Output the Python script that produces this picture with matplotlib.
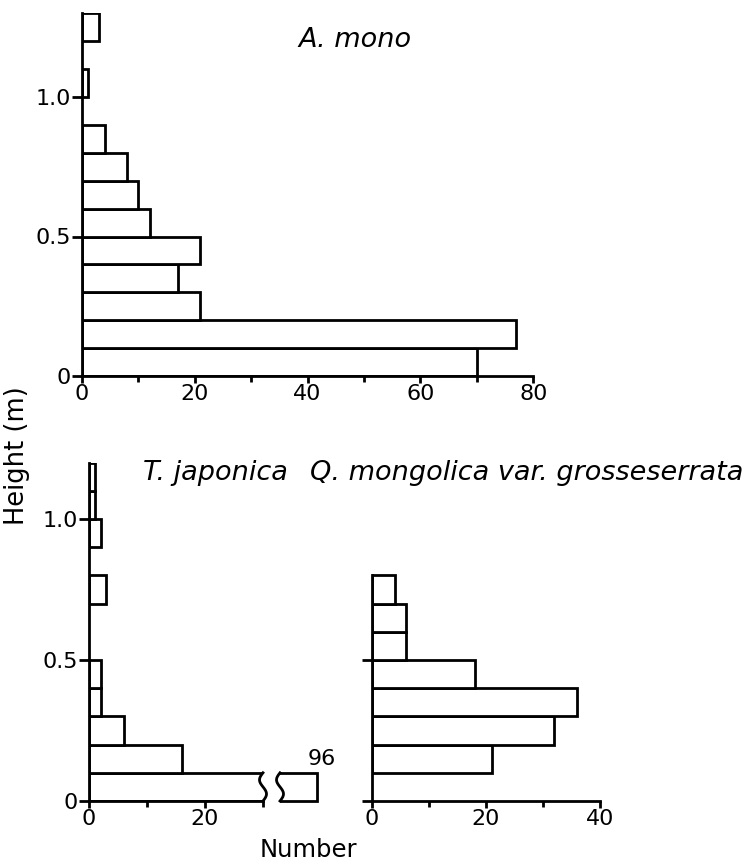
import numpy as np
import matplotlib.pyplot as plt
import matplotlib

matplotlib.rcParams.update({'font.size': 16, 'font.family': 'DejaVu Sans'})

# height classes (m), 0.1 m wide, lower edges
bin_width = 0.1
mono_counts = [70, 77, 21, 17, 21, 12, 10, 8, 4, 0, 1, 0, 3]
japonica_counts = [96, 16, 6, 2, 2, 0, 0, 3, 0, 2, 1, 1]
mongolica_counts = [0, 21, 32, 36, 18, 6, 6, 4]

LW = 2.0
W = 7.52
H = 8.67
fig = plt.figure(figsize=(W, H), dpi=100)


def px_axes(x0, y0, w, h):
    # axes rectangle given in pixels from the top-left corner
    return fig.add_axes([x0 / 752, 1 - (y0 + h) / 867, w / 752, h / 867])


def draw_hist(ax, counts):
    counts = np.asarray(counts, dtype=float)
    lows = np.arange(len(counts)) * bin_width
    keep = counts > 0
    ax.barh(lows[keep], counts[keep], height=bin_width, align='edge',
            color='white', edgecolor='black', linewidth=LW)


def style(ax, xmax, ymax, ytop, ylabels=True):
    ax.set_xlim(0, xmax)
    ax.set_ylim(0, ymax)
    for s in ['top', 'right']:
        ax.spines[s].set_visible(False)
    ax.spines['left'].set_linewidth(LW)
    ax.spines['bottom'].set_linewidth(LW)
    ax.spines['left'].set_bounds(0, ytop)
    ax.spines['bottom'].set_bounds(0, xmax)
    ax.set_xticks(np.arange(0, xmax + 1, 20))
    ax.set_xticks(np.arange(10, xmax, 20), minor=True)
    ax.set_yticks([0, 0.5, 1.0] if ylabels else [0, 0.5])
    if ylabels:
        ax.set_yticklabels(['0', '0.5', '1.0'])
    else:
        ax.set_yticklabels([])
    ax.tick_params(axis='x', which='major', direction='out', length=5,
                   width=LW, pad=1)
    ax.tick_params(axis='x', which='minor', direction='out', length=4,
                   width=LW)
    ax.tick_params(axis='y', direction='out', length=7, width=LW, pad=1)
    ax.set_facecolor('none')


def wavy(ax, x, y0, y1, amp, **kw):
    t = np.linspace(0, 1, 60)
    ax.plot(x + amp * np.sin(2 * np.pi * t), y0 + (y1 - y0) * t,
            color='black', lw=LW, clip_on=False, **kw)


# A. mono
ax1 = px_axes(82, 376 - 1.3 * 279, 5.64 * 80, 1.3 * 279)
draw_hist(ax1, mono_counts)
style(ax1, 80, 1.3, 1.3)
fig.text(355 / 752, 1 - 40 / 867, 'A. mono', style='italic', fontsize=19.5,
         ha='center', va='center')

# T. japonica, axis broken at 30
ax2 = px_axes(89, 801 - 1.2 * 282, 5.8 * 30, 1.2 * 282)
draw_hist(ax2, japonica_counts)
style(ax2, 30, 1.2, 1.2)
ax2.set_xticks([0, 20])
ax2.set_xticks([10, 30], minor=True)
wavy(ax2, 30, 0, bin_width, 0.6)

# continuation of the longest bar past the break
stub_left = 89.6
ax3 = px_axes(280, 801 - 1.2 * 282, 50, 1.25 * 282)
draw_hist(ax3, japonica_counts)
ax3.set_xlim(stub_left, stub_left + 50 / 5.8)
ax3.set_ylim(-0.05, 1.2)
ax3.axis('off')
wavy(ax3, stub_left, 0, bin_width, 0.6)
ax3.text(japonica_counts[0] + 0.8, bin_width + 0.015, str(japonica_counts[0]),
         ha='center', va='bottom', fontsize=16, clip_on=False)

# Q. mongolica var. grosseserrata
ax4 = px_axes(372, 801 - 1.2 * 282, 5.7 * 40, 1.2 * 282)
draw_hist(ax4, mongolica_counts)
style(ax4, 40, 1.2, len(mongolica_counts) * bin_width, ylabels=False)

fig.text(143 / 752, 1 - 473 / 867, 'T. japonica', style='italic',
         fontsize=19.5, ha='left', va='center')
fig.text(310 / 752, 1 - 473 / 867, 'Q. mongolica var. grosseserrata',
         style='italic', fontsize=19.5, ha='left', va='center')

fig.text(17 / 752, 1 - 456 / 867, 'Height (m)', rotation=90,
         ha='center', va='center', fontsize=18.5)
fig.text(308 / 752, 1 - 850 / 867, 'Number', ha='center', va='center',
         fontsize=17.5)

fig.savefig('out.png', dpi=100)
